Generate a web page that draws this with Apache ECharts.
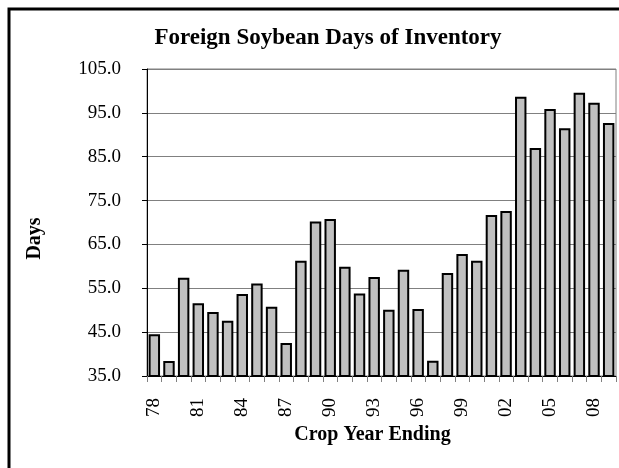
<!DOCTYPE html>
<html>
<head>
<meta charset="utf-8">
<script src="https://cdn.jsdelivr.net/npm/echarts@6/dist/echarts.min.js"></script>
<style>
html,body{margin:0;padding:0;background:#fff;}
#chart{width:619px;height:468px;}
</style>
</head>
<body>
<div id="chart"></div>
<script>
var titleText = 'Foreign Soybean Days of Inventory';
var xAxisName = 'Crop Year Ending';
var yAxisName = 'Days';
var categories = ['78','79','80','81','82','83','84','85','86','87','88','89','90','91','92','93','94','95','96','97','98','99','00','01','02','03','04','05','06','07','08','09'];
var daysValues = [44.5, 38.4, 57.4, 51.6, 49.6, 47.6, 53.7, 56.1, 50.8, 42.5, 61.3, 70.2, 70.8, 59.9, 53.8, 57.6, 50.1, 59.2, 50.3, 38.5, 58.5, 62.8, 61.3, 71.7, 72.6, 98.7, 87.0, 95.9, 91.5, 99.6, 97.3, 92.7];
var yMin = 35, yMax = 105, yStep = 10;

var FONT = '"Liberation Serif", "Times New Roman", serif';
var chart = echarts.init(document.getElementById('chart'), null, {renderer: 'canvas'});
chart.setOption({
  animation: false,
  backgroundColor: '#ffffff',
  title: {
    text: titleText,
    left: 323,
    top: 22,
    textAlign: 'center',
    textStyle: {fontFamily: FONT, fontWeight: 'bold', fontSize: 23, color: '#000'}
  },
  graphic: [{
    type: 'rect',
    shape: {x: 9, y: 9, width: 800, height: 800},
    style: {fill: 'none', stroke: '#000', lineWidth: 3},
    silent: true
  }],
  grid: {
    left: 147, right: 3, top: 69, bottom: 92,
    show: true, borderColor: '#808080', borderWidth: 1, backgroundColor: 'transparent'
  },
  xAxis: {
    type: 'category',
    data: categories,
    name: xAxisName,
    nameLocation: 'middle',
    nameGap: 46,
    nameTextStyle: {fontFamily: FONT, fontWeight: 'bold', fontSize: 20, color: '#000', padding: [0, 18, 0, 0]},
    axisLine: {lineStyle: {color: '#000', width: 1}},
    axisTick: {show: true, interval: 0, length: 6, alignWithLabel: false, lineStyle: {color: '#808080'}},
    axisLabel: {interval: 2, rotate: 90, margin: 22, fontFamily: FONT, fontSize: 19, color: '#000'},
    splitLine: {show: false}
  },
  yAxis: {
    type: 'value',
    min: yMin, max: yMax, interval: yStep,
    name: yAxisName,
    nameLocation: 'middle',
    nameGap: 102,
    nameTextStyle: {fontFamily: FONT, fontWeight: 'bold', fontSize: 20, color: '#000', padding: [0, 32, 0, 0]},
    axisLine: {show: true, lineStyle: {color: '#000', width: 1}},
    axisTick: {show: true, length: 5, lineStyle: {color: '#000'}},
    axisLabel: {margin: 26, fontFamily: FONT, fontSize: 19, color: '#000', formatter: function(v){return v.toFixed(1);}},
    splitLine: {show: true, lineStyle: {color: '#808080', width: 1}}
  },
  series: [{
    type: 'bar',
    data: daysValues,
    barCategoryGap: '22%',
    itemStyle: {color: '#c0c0c0', borderColor: '#000', borderWidth: 2}
  }]
});
</script>
</body>
</html>
